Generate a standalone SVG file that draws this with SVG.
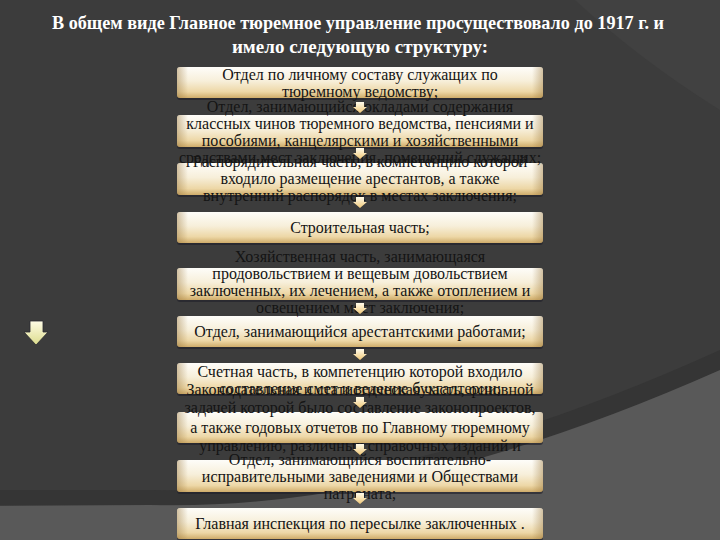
<svg xmlns="http://www.w3.org/2000/svg" width="720" height="540" viewBox="0 0 720 540">
<style>
.title{font-family:'Liberation Serif','Times New Roman',serif;font-weight:bold;font-size:19px;fill:#ffffff;text-anchor:middle}
.t{font-family:'Liberation Serif','Times New Roman',serif;font-size:16px;fill:#141414;text-anchor:middle}
.box{fill:url(#bg)}
.edge{fill:url(#eg)}
.sh{fill:#1e1e28;opacity:0.6}
</style>
<defs>
<linearGradient id="bg" x1="0" y1="0" x2="0" y2="1">
<stop offset="0" stop-color="#fefdf9"/>
<stop offset="0.45" stop-color="#f7efda"/>
<stop offset="0.8" stop-color="#edd7a6"/>
<stop offset="1" stop-color="#cfac6a"/>
</linearGradient>
<linearGradient id="eg" x1="0" y1="0" x2="1" y2="0">
<stop offset="0" stop-color="#9c7a40" stop-opacity="0.45"/>
<stop offset="0.03" stop-color="#9c7a40" stop-opacity="0"/>
<stop offset="0.97" stop-color="#9c7a40" stop-opacity="0"/>
<stop offset="1" stop-color="#9c7a40" stop-opacity="0.45"/>
</linearGradient>
<linearGradient id="ag" x1="0" y1="0" x2="0" y2="1">
<stop offset="0" stop-color="#fffbea"/>
<stop offset="1" stop-color="#f0c878"/>
</linearGradient>
<linearGradient id="lg" x1="0" y1="0" x2="0" y2="1">
<stop offset="0" stop-color="#fffce6"/>
<stop offset="1" stop-color="#dcdc8c"/>
</linearGradient>
<path id="a" d="M-4,0 H4 V5 H7 L0,11 L-7,5 H-4 Z" fill="url(#ag)"/>
</defs>

<g id="background">
<rect width="720" height="540" fill="#3c3c3c"/>
<path d="M575,0 Q640,60 720,110 V0 Z" fill="#414141"/>
<path d="M0,490 L150,490 Q400,495 720,350 L720,378 Q400,512 150,505 L0,505 Z" fill="#353535"/>
<path d="M0,506 L150,505 Q400,512 720,370 L720,540 L0,540 Z" fill="#595959"/>
</g>

<g id="title">
<text class="title" x="358" y="29" textLength="612" lengthAdjust="spacingAndGlyphs">В общем виде Главное тюремное управление просуществовало до 1917 г. и</text>
<text class="title" x="360" y="53">имело следующую структуру:</text>
</g>

<g id="left-arrow">
<path d="M30,321 H43 V332 H48 L36,345 L24,332 H30 Z" fill="url(#lg)" stroke="#2a2a30" stroke-width="0.8"/>
</g>

<g id="boxes">
<g id="n1"><rect class="sh" x="177" y="69" width="366" height="31" rx="3"/><rect class="box" x="177" y="67" width="366" height="31" rx="3"/><rect class="edge" x="177" y="67" width="366" height="31" rx="3"/></g>
<g id="n2"><rect class="sh" x="177" y="117" width="366" height="32" rx="3"/><rect class="box" x="177" y="115" width="366" height="32" rx="3"/><rect class="edge" x="177" y="115" width="366" height="32" rx="3"/></g>
<g id="n3"><rect class="sh" x="177" y="165" width="366" height="32" rx="3"/><rect class="box" x="177" y="163" width="366" height="32" rx="3"/><rect class="edge" x="177" y="163" width="366" height="32" rx="3"/></g>
<g id="n4"><rect class="sh" x="177" y="214" width="366" height="31" rx="3"/><rect class="box" x="177" y="212" width="366" height="31" rx="3"/><rect class="edge" x="177" y="212" width="366" height="31" rx="3"/></g>
<g id="n5"><rect class="sh" x="177" y="270" width="366" height="32" rx="3"/><rect class="box" x="177" y="268" width="366" height="32" rx="3"/><rect class="edge" x="177" y="268" width="366" height="32" rx="3"/></g>
<g id="n6"><rect class="sh" x="177" y="318" width="366" height="31" rx="3"/><rect class="box" x="177" y="316" width="366" height="31" rx="3"/><rect class="edge" x="177" y="316" width="366" height="31" rx="3"/></g>
<g id="n7"><rect class="sh" x="177" y="365" width="366" height="31" rx="3"/><rect class="box" x="177" y="363" width="366" height="31" rx="3"/><rect class="edge" x="177" y="363" width="366" height="31" rx="3"/></g>
<g id="n8"><rect class="sh" x="177" y="414" width="366" height="31" rx="3"/><rect class="box" x="177" y="412" width="366" height="31" rx="3"/><rect class="edge" x="177" y="412" width="366" height="31" rx="3"/></g>
<g id="n9"><rect class="sh" x="177" y="462" width="366" height="32" rx="3"/><rect class="box" x="177" y="460" width="366" height="32" rx="3"/><rect class="edge" x="177" y="460" width="366" height="32" rx="3"/></g>
<g id="n10"><rect class="sh" x="177" y="510" width="366" height="31" rx="3"/><rect class="box" x="177" y="508" width="366" height="31" rx="3"/><rect class="edge" x="177" y="508" width="366" height="31" rx="3"/></g>
</g>

<g id="labels">
<text class="t" x="360" y="80">Отдел по личному составу служащих по</text>
<text class="t" x="360" y="97">тюремному ведомству;</text>

<text class="t" x="360" y="112">Отдел, занимающийся окладами содержания</text>
<text class="t" x="360" y="129">классных чинов тюремного ведомства, пенсиями и</text>
<text class="t" x="360" y="146">пособиями, канцелярскими и хозяйственными</text>
<text class="t" x="360" y="163">средствами мест заключения, помещений служащих;</text>

<text class="t" x="360" y="167">Распорядительная часть, в компетенцию которой</text>
<text class="t" x="360" y="184">входило размещение арестантов, а также</text>
<text class="t" x="360" y="201">внутренний распорядок в местах заключения;</text>

<text class="t" x="360" y="233">Строительная часть;</text>

<text class="t" x="360" y="262">Хозяйственная часть, занимающаяся</text>
<text class="t" x="360" y="279">продовольствием и вещевым довольствием</text>
<text class="t" x="360" y="296">заключенных, их лечением, а также отоплением и</text>
<text class="t" x="360" y="313">освещением мест заключения;</text>

<text class="t" x="360" y="337">Отдел, занимающийся арестантскими работами;</text>

<text class="t" x="360" y="377">Счетная часть, в компетенцию которой входило</text>
<text class="t" x="360" y="394">составление смет и ведение бухгалтерии;</text>

<text class="t" x="360" y="395">Законодательная и статистическая часть, основной</text>
<text class="t" x="360" y="413">задачей которой было составление законопроектов,</text>
<text class="t" x="360" y="433">а также годовых отчетов по Главному тюремному</text>
<text class="t" x="360" y="451">управлению, различных справочных изданий и</text>

<text class="t" x="360" y="465">Отдел, занимающийся воспитательно-</text>
<text class="t" x="360" y="482">исправительными заведениями и Обществами</text>
<text class="t" x="360" y="499">патроната;</text>

<text class="t" x="360" y="529">Главная инспекция по пересылке заключенных .</text>
</g>

<g id="connectors">
<use href="#a" x="360" y="102"/>
<use href="#a" x="360" y="148"/>
<use href="#a" x="360" y="197"/>
<use href="#a" x="360" y="303"/>
<use href="#a" x="360" y="349"/>
<use href="#a" x="360" y="397"/>
<use href="#a" x="360" y="444"/>
<use href="#a" x="360" y="493"/>
</g>
</svg>
